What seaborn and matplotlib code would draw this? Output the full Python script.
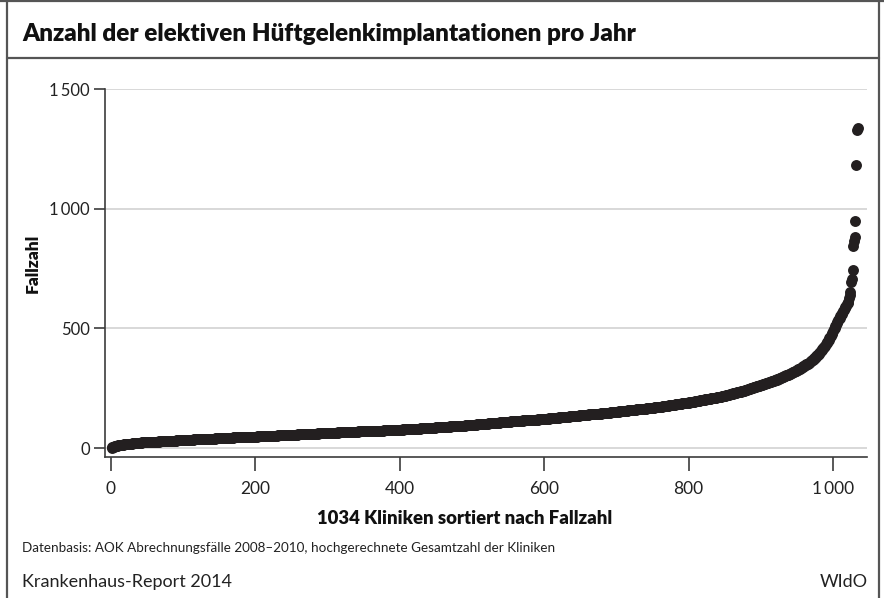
import numpy as np
import matplotlib
matplotlib.use("Agg")
import matplotlib.pyplot as plt
from matplotlib.lines import Line2D
import seaborn as sns

# Fallzahl je Klinik, aufsteigend sortiert
fallzahl = [
    1, 3, 5, 6, 7, 8, 9, 10, 10, 11, 11, 12, 12, 13, 13, 14, 14, 15, 15, 16,
    16, 16, 16, 17, 17, 17, 18, 18, 18, 19, 19, 19, 20, 20, 20, 21, 21, 21, 22, 22,
    22, 22, 23, 23, 23, 23, 24, 24, 24, 24, 25, 25, 25, 25, 25, 26, 26, 26, 26, 26,
    26, 27, 27, 27, 27, 27, 28, 28, 28, 28, 28, 28, 29, 29, 29, 29, 29, 29, 29, 29,
    30, 30, 30, 30, 30, 31, 31, 31, 31, 31, 32, 32, 32, 32, 32, 33, 33, 33, 33, 33,
    33, 34, 34, 34, 34, 34, 34, 35, 35, 35, 35, 35, 35, 35, 36, 36, 36, 36, 36, 36,
    36, 36, 36, 37, 37, 37, 37, 37, 37, 37, 38, 38, 38, 38, 38, 38, 38, 39, 39, 39,
    39, 39, 39, 39, 40, 40, 40, 40, 40, 40, 41, 41, 41, 41, 41, 41, 42, 42, 42, 42,
    42, 42, 42, 43, 43, 43, 43, 43, 43, 44, 44, 44, 44, 44, 44, 45, 45, 45, 45, 45,
    45, 46, 46, 46, 46, 46, 46, 47, 47, 47, 47, 47, 47, 48, 48, 48, 48, 48, 48, 48,
    48, 48, 49, 49, 49, 49, 49, 49, 49, 50, 50, 50, 50, 50, 50, 50, 51, 51, 51, 51,
    51, 51, 51, 52, 52, 52, 52, 52, 52, 52, 53, 53, 53, 53, 53, 53, 53, 54, 54, 54,
    54, 54, 54, 54, 55, 55, 55, 55, 55, 55, 55, 56, 56, 56, 56, 56, 56, 56, 57, 57,
    57, 57, 57, 57, 57, 58, 58, 58, 58, 58, 58, 58, 59, 59, 59, 59, 59, 59, 59, 60,
    60, 60, 60, 60, 60, 60, 61, 61, 61, 61, 61, 61, 61, 62, 62, 62, 62, 62, 62, 62,
    63, 63, 63, 63, 63, 63, 63, 64, 64, 64, 64, 64, 64, 64, 65, 65, 65, 65, 65, 65,
    65, 66, 66, 66, 66, 66, 66, 66, 67, 67, 67, 67, 67, 67, 67, 68, 68, 68, 68, 68,
    68, 68, 69, 69, 69, 69, 69, 69, 69, 70, 70, 70, 70, 70, 70, 70, 71, 71, 71, 71,
    71, 71, 71, 72, 72, 72, 72, 72, 72, 72, 73, 73, 73, 73, 73, 73, 73, 74, 74, 74,
    74, 74, 74, 74, 75, 75, 75, 75, 75, 75, 75, 76, 76, 76, 76, 76, 76, 77, 77, 77,
    77, 77, 77, 77, 78, 78, 78, 78, 78, 78, 79, 79, 79, 79, 79, 79, 80, 80, 80, 80,
    80, 80, 81, 81, 81, 81, 81, 81, 82, 82, 82, 82, 82, 82, 83, 83, 83, 83, 83, 84,
    84, 84, 84, 84, 85, 85, 85, 85, 85, 86, 86, 86, 86, 86, 87, 87, 87, 87, 87, 88,
    88, 88, 88, 88, 89, 89, 89, 89, 89, 90, 90, 90, 90, 91, 91, 91, 91, 91, 92, 92,
    92, 92, 93, 93, 93, 93, 94, 94, 94, 94, 95, 95, 95, 95, 96, 96, 96, 96, 97, 97,
    97, 97, 98, 98, 98, 98, 99, 99, 99, 99, 100, 100, 100, 100, 101, 101, 101, 101, 102, 102,
    102, 102, 103, 103, 103, 103, 104, 104, 104, 104, 105, 105, 105, 105, 106, 106, 106, 106, 107, 107,
    107, 107, 108, 108, 108, 108, 109, 109, 109, 110, 110, 110, 110, 111, 111, 111, 112, 112, 112, 112,
    112, 112, 113, 113, 113, 113, 114, 114, 114, 114, 115, 115, 115, 115, 116, 116, 116, 116, 117, 117,
    117, 117, 117, 118, 118, 118, 118, 119, 119, 119, 119, 120, 120, 120, 120, 121, 121, 121, 121, 122,
    122, 122, 122, 123, 123, 123, 124, 124, 124, 124, 125, 125, 125, 126, 126, 126, 126, 127, 127, 127,
    128, 128, 128, 128, 129, 129, 129, 130, 130, 130, 130, 131, 131, 131, 132, 132, 132, 132, 133, 133,
    133, 134, 134, 134, 135, 135, 135, 135, 136, 136, 136, 137, 137, 137, 137, 138, 138, 138, 139, 139,
    139, 140, 140, 140, 140, 141, 141, 141, 142, 142, 142, 143, 143, 143, 143, 144, 144, 144, 145, 145,
    145, 146, 146, 146, 147, 147, 147, 148, 148, 148, 148, 149, 149, 149, 150, 150, 150, 151, 151, 151,
    152, 152, 152, 153, 153, 153, 154, 154, 154, 155, 155, 155, 156, 156, 156, 157, 157, 157, 158, 158,
    158, 159, 159, 159, 160, 160, 160, 161, 161, 161, 162, 162, 162, 163, 163, 163, 164, 164, 164, 165,
    165, 166, 166, 166, 167, 167, 167, 168, 168, 169, 169, 169, 170, 170, 171, 171, 171, 172, 172, 173,
    173, 173, 173, 174, 174, 175, 175, 175, 176, 176, 177, 177, 178, 178, 178, 179, 179, 180, 180, 181,
    181, 182, 182, 183, 183, 184, 184, 184, 185, 185, 186, 186, 187, 187, 188, 188, 189, 189, 190, 190,
    191, 191, 192, 192, 193, 193, 194, 194, 195, 195, 196, 196, 197, 198, 198, 199, 199, 200, 201, 201,
    202, 202, 203, 203, 204, 204, 205, 205, 206, 206, 207, 208, 208, 209, 209, 210, 210, 211, 212, 212,
    213, 213, 214, 215, 215, 216, 217, 217, 218, 219, 219, 220, 221, 221, 222, 223, 224, 224, 225, 226,
    227, 228, 228, 229, 230, 231, 232, 232, 233, 234, 235, 236, 237, 238, 238, 239, 240, 241, 242, 243,
    244, 245, 246, 247, 248, 249, 250, 251, 252, 253, 254, 255, 256, 257, 258, 259, 260, 261, 262, 263,
    264, 265, 266, 267, 268, 269, 270, 271, 272, 273, 274, 275, 276, 277, 278, 279, 281, 282, 283, 284,
    285, 286, 287, 289, 290, 291, 292, 294, 295, 296, 297, 299, 300, 301, 303, 304, 305, 307, 308, 310,
    311, 313, 314, 316, 317, 319, 320, 322, 323, 325, 327, 328, 330, 332, 333, 335, 337, 339, 341, 343,
    345, 347, 349, 351, 353, 355, 357, 360, 362, 364, 367, 369, 372, 375, 378, 381, 384, 387, 390, 393,
    396, 400, 404, 408, 412, 416, 420, 424, 428, 433, 438, 443, 448, 453, 458, 464, 470, 476, 482, 490,
    497, 503, 509, 515, 521, 527, 533, 539, 545, 551, 556, 561, 566, 571, 577, 583, 589, 595, 600, 606,
    612, 625, 640, 650, 695, 705, 742, 846, 865, 880, 950, 1183, 1330, 1335,
]
rang = list(range(1, len(fallzahl) + 1))

x_ticks = [0, 200, 400, 600, 800, 1000]
x_labels = ["0", "200", "400", "600", "800", "1\u2009000"]
y_ticks = [0, 500, 1000, 1500]
y_labels = ["0", "500", "1\u2009000", "1\u2009500"]

sns.set_style("white")
plt.rcParams["font.family"] = ["Lato", "DejaVu Sans"]

W, H = 884, 598
fig = plt.figure(figsize=(W / 100, H / 100), dpi=100)

axis_col = "#3c3c3c"
dot_col = "#231f20"

ax = fig.add_axes([105 / W, 1 - 457 / H, (867 - 105) / W, (457 - 89) / H])
sns.scatterplot(x=rang, y=fallzahl, color=dot_col, s=62, linewidth=0, ax=ax, zorder=3)

ax.set_xlim(-8.3, 1047)
ax.set_ylim(-37.6, 1500)
ax.set_xticks(x_ticks, x_labels)
ax.set_yticks(y_ticks, y_labels)
ax.yaxis.grid(True, color="#d2d2d2", linewidth=1.2)
ax.set_axisbelow(True)
for side in ["top", "right"]:
    ax.spines[side].set_visible(False)
for side in ["left", "bottom"]:
    ax.spines[side].set_color(axis_col)
    ax.spines[side].set_linewidth(1.2)
ax.tick_params(axis="y", left=True, length=8, width=1.2, color=axis_col, pad=3,
               labelsize=12, labelcolor="#222222")
ax.tick_params(axis="x", bottom=True, length=10, width=1.2, color=axis_col, pad=7,
               labelsize=12.5, labelcolor="#222222")
ax.set_xlabel("")
ax.set_ylabel("")

# Beschriftungen
fig.text(22 / W, 1 - 34 / H, "Anzahl der elektiven Hüftgelenkimplantationen pro Jahr",
         fontsize=17.5, fontweight="heavy", color="#111111", va="center", ha="left")
fig.text(33 / W, 1 - 263 / H, "Fallzahl", rotation=90, fontsize=12.5, fontweight="heavy",
         color="#111111", va="center", ha="center")
fig.text(465 / W, 1 - 518 / H, "1034 Kliniken sortiert nach Fallzahl", fontsize=13.3,
         fontweight="heavy", color="#111111", va="center", ha="center")
fig.text(22 / W, 1 - 548 / H,
         "Datenbasis: AOK Abrechnungsfälle 2008\u20132010, hochgerechnete Gesamtzahl der Kliniken",
         fontsize=9.75, color="#222222", va="center", ha="left")
fig.text(22 / W, 1 - 582 / H, "Krankenhaus-Report 2014", fontsize=13, color="#222222",
         va="center", ha="left")
fig.text(868 / W, 1 - 582 / H, "WIdO", fontsize=13, color="#222222", va="center", ha="right")

# Rahmen
frame_col = "#555555"
fig.add_artist(Line2D([0, 1], [1 - 1 / H, 1 - 1 / H], color=frame_col, linewidth=1.6))
fig.add_artist(Line2D([7 / W, 7 / W], [0, 1], color=frame_col, linewidth=1.6))
fig.add_artist(Line2D([879 / W, 879 / W], [0, 1], color=frame_col, linewidth=1.6))
fig.add_artist(Line2D([7 / W, 879 / W], [1 - 58 / H, 1 - 58 / H], color=frame_col, linewidth=1.6))

fig.savefig("out.png", dpi=100)
